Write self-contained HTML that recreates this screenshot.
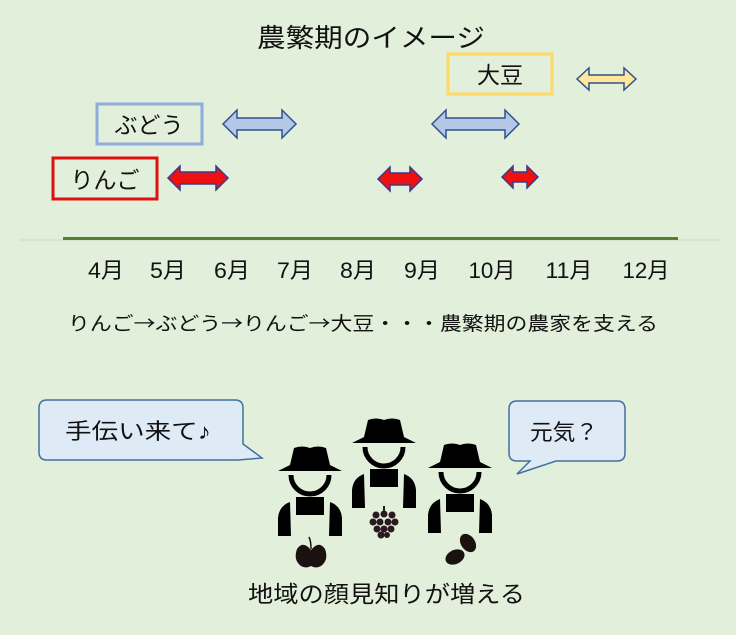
<!DOCTYPE html>
<html><head><meta charset="utf-8"><style>
html,body{margin:0;padding:0;background:#e2efda;}
svg{display:block;}
text{font-family:"Liberation Sans","Noto Sans CJK JP",sans-serif;fill:#111;}
.cjk{font-family:"Noto Sans CJK JP",sans-serif;}
</style></head><body>
<svg width="736" height="635" viewBox="0 0 736 635" xmlns="http://www.w3.org/2000/svg">
<rect width="736" height="635" fill="#e2efda"/>
<defs>
<g id="farmer">
  <path d="M-32,25 L-20,19 L-16,2 Q-8,-1 0,2 Q8,-1 16,2 L20,19 L32,25 Z" fill="#000"/>
  <path d="M-19,29 A19,19 0 0 0 19,29" fill="none" stroke="#000" stroke-width="5"/>
  <rect x="-14" y="51" width="28" height="18" fill="#000"/>
  <path d="M-32,90 L-32,72 Q-31,60 -20,56 L-19,90 Z" fill="#000"/>
  <path d="M32,90 L32,72 Q31,60 20,56 L19,90 Z" fill="#000"/>
</g>
</defs>

<text x="257" y="47" font-size="26" textLength="228" lengthAdjust="spacingAndGlyphs">農繁期のイメージ</text>

<rect x="448" y="54" width="104" height="40" fill="none" stroke="#ffd966" stroke-width="3"/>
<text x="500" y="83" font-size="23" text-anchor="middle">大豆</text>
<rect x="97" y="104" width="105" height="40" fill="none" stroke="#8faadc" stroke-width="3"/>
<text x="149" y="133" font-size="23" text-anchor="middle">ぶどう</text>
<rect x="53" y="158" width="104" height="41" fill="none" stroke="#e01010" stroke-width="3"/>
<text x="105" y="188" font-size="23" text-anchor="middle">りんご</text>

<path d="M577,79 L589,68 L589,75 L624,75 L624,68 L636,79 L624,90 L624,83 L589,83 L589,90 Z" fill="#ffe699" stroke="#2f528f" stroke-width="1.5"/>
<path d="M223,124 L237,110 L237,118 L282,118 L282,110 L296,124 L282,138 L282,130 L237,130 L237,138 Z" fill="#b4c7e7" stroke="#2f528f" stroke-width="1.5"/>
<path d="M432,124 L446,110 L446,118 L505,118 L505,110 L519,124 L505,138 L505,130 L446,130 L446,138 Z" fill="#b4c7e7" stroke="#2f528f" stroke-width="1.5"/>
<path d="M168,178 L180,166 L180,172 L216,172 L216,166 L228,178 L216,190 L216,184 L180,184 L180,190 Z" fill="#ee1111" stroke="#3a3a8a" stroke-width="1.5"/>
<path d="M378,179 L390,167 L390,173 L410,173 L410,167 L422,179 L410,191 L410,185 L390,185 L390,191 Z" fill="#ee1111" stroke="#3a3a8a" stroke-width="1.5"/>
<path d="M502,177 L513,166 L513,172 L527,172 L527,166 L538,177 L527,188 L527,182 L513,182 L513,188 Z" fill="#ee1111" stroke="#3a3a8a" stroke-width="1.5"/>

<line x1="20" y1="240" x2="720" y2="240" stroke="#cfd8c8" stroke-width="1"/>
<line x1="63" y1="238.5" x2="678" y2="238.5" stroke="#548235" stroke-width="3"/>

<g font-size="22" text-anchor="middle">
<text x="106" y="278" textLength="36" lengthAdjust="spacingAndGlyphs">4月</text>
<text x="168" y="278" textLength="36" lengthAdjust="spacingAndGlyphs">5月</text>
<text x="232" y="278" textLength="36" lengthAdjust="spacingAndGlyphs">6月</text>
<text x="295" y="278" textLength="36" lengthAdjust="spacingAndGlyphs">7月</text>
<text x="358" y="278" textLength="36" lengthAdjust="spacingAndGlyphs">8月</text>
<text x="422" y="278" textLength="36" lengthAdjust="spacingAndGlyphs">9月</text>
<text x="492" y="278" textLength="47" lengthAdjust="spacingAndGlyphs">10月</text>
<text x="569" y="278" textLength="47" lengthAdjust="spacingAndGlyphs">11月</text>
<text x="646" y="278" textLength="47" lengthAdjust="spacingAndGlyphs">12月</text>
</g>

<text x="68" y="330" font-size="19" class="cjk" textLength="590" lengthAdjust="spacingAndGlyphs">りんご→ぶどう→りんご→大豆・・・農繁期の農家を支える</text>

<path d="M47,400 L235,400 Q243,400 243,408 L243,444 L262,458 L238,460 L47,460 Q39,460 39,452 L39,408 Q39,400 47,400 Z" fill="#deebf7" stroke="#41719c" stroke-width="1.5"/>
<text x="65" y="439" font-size="22" textLength="146" lengthAdjust="spacingAndGlyphs">手伝い来て♪</text>
<path d="M517,401 L617,401 Q625,401 625,409 L625,453 Q625,461 617,461 L556,461 L517,474 L530,461 L517,461 Q509,461 509,453 L509,409 Q509,401 517,401 Z" fill="#deebf7" stroke="#41719c" stroke-width="1.5"/>
<text x="530" y="440" font-size="22" textLength="68" lengthAdjust="spacingAndGlyphs">元気？</text>

<use href="#farmer" transform="translate(310,446)"/>
<use href="#farmer" transform="translate(384,418)"/>
<use href="#farmer" transform="translate(460,443)"/>

<path d="M311,550 Q303,540 297,549 Q293,560 301,566 Q306,569 311,566 Q316,569 321,566 Q329,560 325,549 Q319,540 311,550 Z" fill="#1a1210"/>
<path d="M311,549 Q311,541 309,537" stroke="#1a1210" stroke-width="1.5" fill="none"/>
<g fill="#2a1a20">
<rect x="383" y="506" width="2" height="5"/>
<circle cx="376" cy="515" r="3.5"/><circle cx="384" cy="514" r="3.5"/><circle cx="392" cy="515" r="3.5"/>
<circle cx="373" cy="522" r="3.5"/><circle cx="380" cy="522" r="3.5"/><circle cx="388" cy="522" r="3.5"/><circle cx="395" cy="522" r="3.5"/>
<circle cx="377" cy="529" r="3.5"/><circle cx="384" cy="529" r="3.5"/><circle cx="391" cy="529" r="3.5"/>
<circle cx="381" cy="535" r="3.5"/><circle cx="387" cy="535" r="3"/>
</g>
<ellipse cx="468" cy="543" rx="7" ry="10" transform="rotate(-35 468 543)" fill="#1a1210"/>
<ellipse cx="455" cy="557" rx="10" ry="7" transform="rotate(-25 455 557)" fill="#1a1210"/>

<text x="248" y="602" font-size="23" textLength="277" lengthAdjust="spacingAndGlyphs">地域の顔見知りが増える</text>
</svg>
</body></html>
